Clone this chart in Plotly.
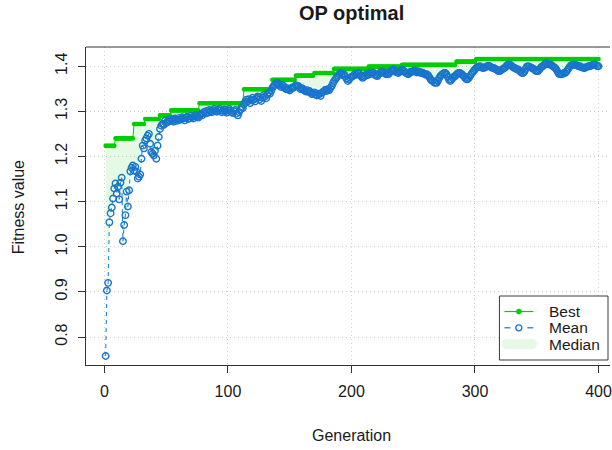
import plotly.graph_objects as go

# ---- data -------------------------------------------------------------
generation = list(range(1, 401))

mean_fitness = [
    0.758, 0.903, 0.920, 1.054, 1.074, 1.087, 1.107, 1.129, 1.140, 1.118,
    1.133, 1.105, 1.142, 1.153, 1.012, 1.048, 1.070, 1.122, 1.089, 1.125,
    1.167, 1.175, 1.180, 1.169, 1.177, 1.166, 1.151, 1.155, 1.160, 1.195,
    1.224, 1.218, 1.235, 1.240, 1.246, 1.250, 1.228, 1.210, 1.206, 1.202,
    1.213, 1.195, 1.224, 1.243, 1.261, 1.268, 1.272, 1.270, 1.279, 1.274,
    1.276, 1.281, 1.278, 1.283, 1.280, 1.277, 1.284, 1.282, 1.279, 1.285,
    1.281, 1.283, 1.287, 1.284, 1.280, 1.286, 1.288, 1.283, 1.285, 1.290,
    1.287, 1.284, 1.289, 1.292, 1.288, 1.286, 1.290, 1.294, 1.291, 1.296,
    1.299, 1.295, 1.301, 1.297, 1.303, 1.300, 1.298, 1.302, 1.305, 1.301,
    1.299, 1.303, 1.306, 1.302, 1.298, 1.301, 1.304, 1.300, 1.297, 1.302,
    1.305, 1.301, 1.298, 1.296, 1.300, 1.303, 1.295, 1.291, 1.298, 1.304,
    1.309, 1.307, 1.316, 1.321, 1.326, 1.322, 1.327, 1.318, 1.324, 1.330,
    1.326, 1.322, 1.329, 1.333, 1.331, 1.327, 1.323, 1.330, 1.336, 1.333,
    1.329, 1.337, 1.342, 1.339, 1.345, 1.352, 1.356, 1.359, 1.362, 1.363,
    1.360, 1.357, 1.354, 1.358, 1.356, 1.352, 1.349, 1.351, 1.349, 1.346,
    1.350, 1.353, 1.352, 1.355, 1.358, 1.356, 1.356, 1.352, 1.349, 1.351,
    1.349, 1.346, 1.344, 1.347, 1.343, 1.345, 1.341, 1.338, 1.340, 1.342,
    1.337, 1.335, 1.339, 1.338, 1.334, 1.341, 1.343, 1.345, 1.348, 1.345,
    1.349, 1.347, 1.352, 1.356, 1.362, 1.367, 1.371, 1.375, 1.379, 1.382,
    1.385, 1.383, 1.380, 1.382, 1.378, 1.372, 1.367, 1.370, 1.374, 1.376,
    1.378, 1.380, 1.383, 1.381, 1.385, 1.384, 1.380, 1.377, 1.374, 1.376,
    1.379, 1.382, 1.380, 1.382, 1.385, 1.383, 1.386, 1.385, 1.381, 1.379,
    1.378, 1.382, 1.385, 1.387, 1.389, 1.386, 1.384, 1.382, 1.385, 1.382,
    1.386, 1.389, 1.391, 1.393, 1.390, 1.387, 1.386, 1.385, 1.388, 1.391,
    1.393, 1.390, 1.388, 1.385, 1.384, 1.382, 1.385, 1.388, 1.387, 1.389,
    1.391, 1.388, 1.386, 1.389, 1.387, 1.385, 1.386, 1.385, 1.383, 1.381,
    1.382, 1.380, 1.376, 1.371, 1.368, 1.367, 1.364, 1.363, 1.363, 1.368,
    1.374, 1.378, 1.381, 1.383, 1.385, 1.385, 1.382, 1.376, 1.370, 1.367,
    1.370, 1.374, 1.377, 1.378, 1.381, 1.384, 1.385, 1.385, 1.383, 1.380,
    1.378, 1.374, 1.371, 1.371, 1.374, 1.378, 1.382, 1.386, 1.390, 1.393,
    1.396, 1.398, 1.399, 1.400, 1.398, 1.396, 1.396, 1.397, 1.399, 1.400,
    1.401, 1.400, 1.398, 1.396, 1.396, 1.395, 1.393, 1.391, 1.389, 1.389,
    1.391, 1.393, 1.395, 1.396, 1.399, 1.402, 1.404, 1.404, 1.402, 1.400,
    1.397, 1.396, 1.395, 1.393, 1.393, 1.390, 1.387, 1.385, 1.385, 1.388,
    1.394, 1.399, 1.400, 1.399, 1.397, 1.396, 1.395, 1.393, 1.390, 1.389,
    1.389, 1.392, 1.396, 1.399, 1.400, 1.403, 1.406, 1.407, 1.405, 1.404,
    1.404, 1.402, 1.400, 1.398, 1.396, 1.392, 1.387, 1.383, 1.382, 1.382,
    1.383, 1.385, 1.385, 1.388, 1.392, 1.396, 1.400, 1.402, 1.403, 1.404,
    1.404, 1.402, 1.401, 1.400, 1.400, 1.398, 1.397, 1.396, 1.396, 1.398,
    1.399, 1.400, 1.400, 1.401, 1.403, 1.404, 1.404, 1.402, 1.400, 1.400,
]

median_fitness = [
    0.905, 0.960, 0.985, 1.060, 1.080, 1.095, 1.115, 1.135, 1.150, 1.130,
    1.145, 1.120, 1.155, 1.165, 0.975, 1.055, 1.080, 1.135, 1.100, 1.140,
    1.178, 1.186, 1.190, 1.180, 1.188, 1.178, 1.165, 1.168, 1.172, 1.208,
    1.235, 1.230, 1.245, 1.250, 1.256, 1.260, 1.240, 1.222, 1.218, 1.214,
    1.224, 1.208, 1.236, 1.254, 1.270, 1.277, 1.280, 1.279, 1.286, 1.282,
    1.284, 1.288, 1.286, 1.290, 1.288, 1.285, 1.291, 1.290, 1.287, 1.292,
    1.289, 1.291, 1.294, 1.292, 1.288, 1.293, 1.295, 1.291, 1.293, 1.297,
    1.295, 1.292, 1.296, 1.299, 1.296, 1.294, 1.298, 1.302, 1.299, 1.304,
    1.307, 1.303, 1.309, 1.305, 1.310, 1.308, 1.306, 1.310, 1.312, 1.309,
    1.307, 1.311, 1.313, 1.310, 1.306, 1.309, 1.312, 1.308, 1.305, 1.310,
    1.312, 1.309, 1.306, 1.304, 1.308, 1.311, 1.303, 1.300, 1.306, 1.312,
    1.316, 1.315, 1.326, 1.331, 1.335, 1.332, 1.336, 1.328, 1.334, 1.339,
    1.336, 1.332, 1.338, 1.341, 1.340, 1.337, 1.333, 1.339, 1.343, 1.341,
    1.338, 1.344, 1.349, 1.347, 1.354, 1.361, 1.364, 1.366, 1.368, 1.369,
    1.367, 1.365, 1.363, 1.366, 1.365, 1.362, 1.359, 1.361, 1.360, 1.357,
    1.361, 1.363, 1.362, 1.365, 1.368, 1.367, 1.366, 1.363, 1.360, 1.362,
    1.360, 1.357, 1.356, 1.358, 1.355, 1.357, 1.353, 1.351, 1.353, 1.355,
    1.350, 1.349, 1.352, 1.351, 1.348, 1.354, 1.356, 1.358, 1.361, 1.358,
    1.362, 1.360, 1.365, 1.368, 1.373, 1.378, 1.381, 1.384, 1.387, 1.389,
    1.391, 1.390, 1.388, 1.389, 1.386, 1.381, 1.377, 1.379, 1.383, 1.385,
    1.386, 1.388, 1.390, 1.389, 1.391, 1.391, 1.388, 1.386, 1.383, 1.385,
    1.387, 1.390, 1.388, 1.390, 1.392, 1.391, 1.393, 1.393, 1.390, 1.388,
    1.387, 1.390, 1.393, 1.394, 1.396, 1.394, 1.392, 1.390, 1.393, 1.390,
    1.393, 1.396, 1.397, 1.398, 1.396, 1.394, 1.393, 1.392, 1.395, 1.397,
    1.399, 1.397, 1.395, 1.393, 1.392, 1.390, 1.393, 1.395, 1.394, 1.396,
    1.397, 1.395, 1.393, 1.396, 1.394, 1.393, 1.394, 1.393, 1.391, 1.389,
    1.390, 1.388, 1.385, 1.381, 1.378, 1.377, 1.375, 1.374, 1.374, 1.378,
    1.383, 1.387, 1.389, 1.391, 1.393, 1.393, 1.390, 1.385, 1.380, 1.377,
    1.380, 1.383, 1.386, 1.387, 1.389, 1.392, 1.393, 1.394, 1.392, 1.389,
    1.387, 1.384, 1.381, 1.381, 1.384, 1.387, 1.391, 1.395, 1.399, 1.402,
    1.405, 1.406, 1.407, 1.408, 1.406, 1.405, 1.405, 1.406, 1.407, 1.408,
    1.408, 1.408, 1.406, 1.405, 1.405, 1.404, 1.402, 1.400, 1.399, 1.399,
    1.400, 1.402, 1.404, 1.405, 1.407, 1.409, 1.410, 1.410, 1.409, 1.408,
    1.405, 1.404, 1.404, 1.402, 1.402, 1.399, 1.397, 1.395, 1.395, 1.397,
    1.402, 1.406, 1.407, 1.406, 1.405, 1.404, 1.403, 1.402, 1.399, 1.398,
    1.398, 1.401, 1.404, 1.406, 1.407, 1.409, 1.411, 1.412, 1.411, 1.410,
    1.410, 1.409, 1.407, 1.405, 1.404, 1.400, 1.396, 1.393, 1.392, 1.392,
    1.393, 1.395, 1.395, 1.397, 1.400, 1.404, 1.407, 1.409, 1.410, 1.410,
    1.410, 1.409, 1.408, 1.407, 1.407, 1.406, 1.405, 1.404, 1.404, 1.406,
    1.407, 1.407, 1.407, 1.408, 1.409, 1.410, 1.410, 1.409, 1.407, 1.407,
]

# Best fitness only ever improves: (first generation, value) of each level
best_levels = [
    (1, 1.2235), (9, 1.240), (24, 1.272), (33, 1.283), (45, 1.291),
    (54, 1.302), (77, 1.318), (113, 1.349), (136, 1.370), (155, 1.379),
    (170, 1.385), (186, 1.394), (214, 1.399), (241, 1.403), (285, 1.410),
    (301, 1.416),
]

x_ticks = [0, 100, 200, 300, 400]
y_ticks = [0.8, 0.9, 1.0, 1.1, 1.2, 1.3, 1.4]
y_tick_labels = ["0.8", "0.9", "1.0", "1.1", "1.2", "1.3", "1.4"]

legend_labels = ["Best", "Mean", "Median"]

best_fitness = []
for g in generation:
    level = best_levels[0][1]
    for start, value in best_levels:
        if start <= g:
            level = value
    best_fitness.append(level)

# ---- styling ----------------------------------------------------------
GREEN = "#00CD00"        # green3
BLUE = "#1874CD"         # dodgerblue3
FILL = "rgba(0,205,0,0.10)"
FONT = "Liberation Sans, Arial, Helvetica, sans-serif"
TEXT = "#1a1a1a"

W, H = 612, 450
L, R, T, B = 86, 0, 47, 85
PW, PH = W - L - R, H - T - B


def px(x):
    return (x - L) / PW


def py(y):
    return (H - B - y) / PH


fig = go.Figure()

fig.add_trace(go.Scatter(
    x=generation, y=best_fitness, mode="lines+markers",
    line=dict(color=GREEN, width=1),
    marker=dict(color=GREEN, size=4.6, symbol="circle"),
    showlegend=False, hoverinfo="skip",
))

fig.add_trace(go.Scatter(
    x=generation, y=mean_fitness, mode="lines+markers",
    line=dict(color=BLUE, width=1, dash="4px,4px"),
    marker=dict(color=BLUE, size=6.5, symbol="circle-open",
                line=dict(color=BLUE, width=1.4)),
    showlegend=False, hoverinfo="skip",
))

# band between median and best fitness
fig.add_trace(go.Scatter(
    x=generation + generation[::-1],
    y=median_fitness + best_fitness[::-1],
    mode="lines", fill="toself", fillcolor=FILL,
    line=dict(width=0, color=FILL),
    showlegend=False, hoverinfo="skip",
))

# ---- legend box (bottom right) ----------------------------------------
shapes = []
lx0, lx1, ly0, ly1 = 501, 610, 296, 360
shapes.append(dict(type="rect", xref="paper", yref="paper",
                   x0=px(lx0), x1=px(lx1), y0=py(ly1), y1=py(ly0),
                   fillcolor="white", line=dict(color="#3a3a3a", width=1),
                   layer="above"))
row_y = [311.5, 327.8, 344.1]
# Best: solid line with a filled dot
shapes.append(dict(type="line", xref="paper", yref="paper",
                   x0=px(506), x1=px(535), y0=py(row_y[0]), y1=py(row_y[0]),
                   line=dict(color=GREEN, width=1.2), layer="above"))
shapes.append(dict(type="circle", xref="paper", yref="paper",
                   xsizemode="pixel", ysizemode="pixel",
                   xanchor=px(520.5), yanchor=py(row_y[0]),
                   x0=-2.6, x1=2.6, y0=-2.6, y1=2.6,
                   fillcolor=GREEN, line=dict(color=GREEN, width=0.5),
                   layer="above"))
# Mean: dashed line with an open circle
for a, b in [(506, 512), (529, 535)]:
    shapes.append(dict(type="line", xref="paper", yref="paper",
                       x0=px(a), x1=px(b), y0=py(row_y[1]), y1=py(row_y[1]),
                       line=dict(color=BLUE, width=1.2), layer="above"))
shapes.append(dict(type="circle", xref="paper", yref="paper",
                   xsizemode="pixel", ysizemode="pixel",
                   xanchor=px(520.5), yanchor=py(row_y[1]),
                   x0=-3, x1=3, y0=-3, y1=3,
                   fillcolor="rgba(0,0,0,0)", line=dict(color=BLUE, width=1.3),
                   layer="above"))
# Median: wide pale band with rounded ends
band = "#e6f9e6"
shapes.append(dict(type="rect", xref="paper", yref="paper",
                   x0=px(508), x1=px(534), y0=py(row_y[2] + 5), y1=py(row_y[2] - 5),
                   fillcolor=band, line=dict(width=0), layer="above"))
for cx in (508, 534):
    shapes.append(dict(type="circle", xref="paper", yref="paper",
                       xsizemode="pixel", ysizemode="pixel",
                       xanchor=px(cx), yanchor=py(row_y[2]),
                       x0=-5, x1=5, y0=-5, y1=5,
                       fillcolor=band, line=dict(width=0), layer="above"))

# top edge of the plot frame
shapes.append(dict(type="line", xref="paper", yref="paper",
                   x0=0, x1=1, y0=1, y1=1,
                   line=dict(color="#333333", width=1), layer="above"))

annotations = []
for label, yy in zip(legend_labels, row_y):
    annotations.append(dict(text=label, xref="paper", yref="paper",
                            x=px(549), y=py(yy), xanchor="left", yanchor="middle",
                            height=13, valign="middle",
                            showarrow=False, font=dict(size=15.5, color=TEXT, family=FONT)))

annotations.append(dict(text="<b>OP optimal</b>", xref="x", yref="paper",
                        x=200, y=py(13), xanchor="center", yanchor="middle",
                        showarrow=False, font=dict(size=20, color=TEXT, family=FONT)))
annotations.append(dict(text="Generation", xref="x", yref="paper",
                        x=200, y=py(435), xanchor="center", yanchor="middle",
                        showarrow=False, font=dict(size=16, color=TEXT, family=FONT)))
annotations.append(dict(text="Fitness value", xref="paper", yref="paper",
                        x=px(18), y=py(207), xanchor="center", yanchor="middle",
                        textangle=-90, showarrow=False,
                        font=dict(size=16, color=TEXT, family=FONT)))

grid = dict(showgrid=True, gridcolor="#cfcfcf", gridwidth=1, griddash="1px,3px")

fig.update_layout(
    width=W, height=H,
    margin=dict(l=L, r=R, t=T, b=B, pad=0),
    paper_bgcolor="white", plot_bgcolor="white",
    font=dict(family=FONT, size=16, color=TEXT),
    showlegend=False,
    shapes=shapes, annotations=annotations,
    xaxis=dict(range=[-14.9, 409.3], tickmode="array", tickvals=x_ticks,
               ticktext=[str(v) for v in x_ticks],
               ticks="outside", ticklen=7, tickcolor="#333333", tickwidth=1,
               showline=True, linecolor="#333333", linewidth=1,
               zeroline=False, ticklabelstandoff=5, ticklabeloverflow="allow",
               tickfont=dict(size=16, color=TEXT, family=FONT), **grid),
    yaxis=dict(range=[0.738, 1.4425], tickmode="array", tickvals=y_ticks,
               ticktext=y_tick_labels, tickangle=-90,
               ticks="outside", ticklen=7, tickcolor="#333333", tickwidth=1,
               showline=True, linecolor="#333333", linewidth=1,
               zeroline=False, ticklabelstandoff=5,
               tickfont=dict(size=16, color=TEXT, family=FONT), **grid),
)

fig.write_html("out.html")
